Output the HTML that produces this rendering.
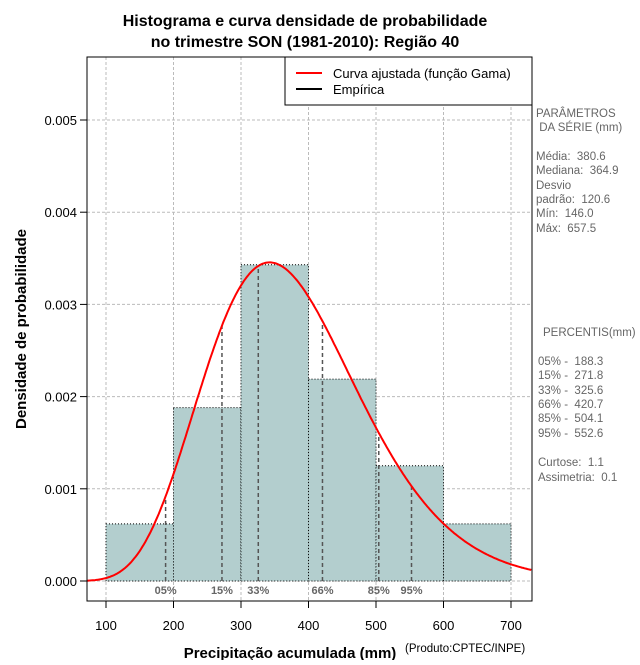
<!DOCTYPE html>
<html><head><meta charset="utf-8"><style>
body{margin:0;background:#fff;}
svg text{font-family:"Liberation Sans",sans-serif;}
.pre text{white-space:pre;}
</style></head><body>
<svg id="chart" width="640" height="660" xmlns="http://www.w3.org/2000/svg">
<rect width="640" height="660" fill="#fff"/>
<text x="305" y="26" text-anchor="middle" font-size="16" font-weight="bold">Histograma e curva densidade de probabilidade</text>
<text x="305" y="47" text-anchor="middle" font-size="16" font-weight="bold">no trimestre SON (1981-2010): Região 40</text>
<g id="grid"></g>
<g id="bars"></g>
<g id="pct"></g>
<path id="curve" fill="none" stroke="#ff0000" stroke-width="2"/>
<g id="axes"></g>
<rect x="87" y="57" width="445" height="544" fill="none" stroke="#000"/>
<g>
<rect x="285" y="57" width="247" height="48" fill="#fff" stroke="#000"/>
<line x1="296" y1="73" x2="322" y2="73" stroke="#ff0000" stroke-width="2"/>
<text x="333" y="78" font-size="13">Curva ajustada (função Gama)</text>
<line x1="296" y1="89" x2="322" y2="89" stroke="#000" stroke-width="2"/>
<text x="333" y="94" font-size="13">Empírica</text>
</g>
<g class="pre" font-size="11.5" fill="#666">
<text x="536" y="117">PARÂMETROS</text>
<text x="536" y="131"> DA SÉRIE (mm)</text>
<text x="536" y="160">Média:  380.6</text>
<text x="536" y="174">Mediana:  364.9</text>
<text x="536" y="189">Desvio</text>
<text x="536" y="203">padrão:  120.6</text>
<text x="536" y="217">Mín:  146.0</text>
<text x="536" y="232">Máx:  657.5</text>
<text x="543" y="336">PERCENTIS(mm)</text>
<text x="538" y="365">05% -  188.3</text>
<text x="538" y="379">15% -  271.8</text>
<text x="538" y="394">33% -  325.6</text>
<text x="538" y="408">66% -  420.7</text>
<text x="538" y="422">85% -  504.1</text>
<text x="538" y="437">95% -  552.6</text>
<text x="538" y="466">Curtose:  1.1</text>
<text x="538" y="481">Assimetria:  0.1</text>
</g>
<text x="290" y="658" text-anchor="middle" font-size="15" font-weight="bold">Precipitação acumulada (mm)</text>
<text x="405" y="652" font-size="11.5">(Produto:CPTEC/INPE)</text>
<text transform="translate(26,329) rotate(-90)" text-anchor="middle" font-size="15" font-weight="bold">Densidade de probabilidade</text>
</svg>
<script>
const binEdges=[100,200,300,400,500,600,700];
const binDensity=[0.00062,0.00188,0.00343,0.00219,0.00125,0.00062];
const xTicks=[100,200,300,400,500,600,700];
const yTicks=[0,0.001,0.002,0.003,0.004,0.005];
const yTickLabels=["0.000","0.001","0.002","0.003","0.004","0.005"];
const pctValues=[188.3,271.8,325.6,420.7,504.1,552.6];
const pctLabels=["05%","15%","33%","66%","85%","95%"];
const gammaMean=[380.6];
const gammaSd=[120.6];
const NS="http://www.w3.org/2000/svg";
const X=v=>106+(v-100)*0.675;
const Y=v=>581-v*92200;
const k=Math.pow(gammaMean[0]/gammaSd[0],2), th=gammaSd[0]*gammaSd[0]/gammaMean[0];
function lgamma(z){const c=[76.18009172947146,-86.50532032941677,24.01409824083091,-1.231739572450155,0.1208650973866179e-2,-0.5395239384953e-5];let x=z,y=z,t=x+5.5;t-=(x+0.5)*Math.log(t);let s=1.000000000190015;for(let j=0;j<6;j++)s+=c[j]/++y;return -t+Math.log(2.5066282746310005*s/x);}
const pdf=x=>x<=0?0:Math.exp((k-1)*Math.log(x)-x/th-lgamma(k)-k*Math.log(th));
function mk(tag,attrs,parent){const e=document.createElementNS(NS,tag);for(const a in attrs)e.setAttribute(a,attrs[a]);document.getElementById(parent).appendChild(e);return e;}
xTicks.forEach(t=>{const e=mk('line',{x1:X(t),x2:X(t),y1:57,y2:601,stroke:'#bbb','stroke-dasharray':'3,2'},'grid');

});
yTicks.forEach(t=>{const e=mk('line',{x1:87,x2:532,y1:Y(t),y2:Y(t),stroke:'#bbb','stroke-dasharray':'3,2'},'grid');

});
binDensity.forEach((d,i)=>{const e=mk('rect',{x:X(binEdges[i]),y:Y(d),width:X(binEdges[i+1])-X(binEdges[i]),height:Y(0)-Y(d),fill:'#b3cece',stroke:'#000','stroke-dasharray':'1,2'},'bars');

});
pctValues.forEach((p,i)=>{const e=mk('line',{x1:X(p),x2:X(p),y1:Y(0),y2:Y(pdf(p)),stroke:'#555','stroke-width':1.5,'stroke-dasharray':'4,3'},'pct');


const t=mk('text',{x:X(p),y:594,'text-anchor':'middle','font-size':11,'font-weight':'bold',fill:'#666'},'pct');t.textContent=pctLabels[i];

});
let d='';for(let v=72;v<=731;v+=2){const y=Math.max(Y(pdf(v)),57);d+=(d?'L':'M')+X(v).toFixed(1)+','+y.toFixed(1);}
document.getElementById('curve').setAttribute('d',d);
xTicks.forEach(t=>{mk('line',{x1:X(t),x2:X(t),y1:601,y2:608,stroke:'#000'},'axes');
const e=mk('text',{x:X(t),y:630,'text-anchor':'middle','font-size':13},'axes');e.textContent=t;

});
yTicks.forEach((t,i)=>{mk('line',{x1:80,x2:87,y1:Y(t),y2:Y(t),stroke:'#000'},'axes');
const e=mk('text',{x:77,y:Y(t)+5,'text-anchor':'end','font-size':13},'axes');e.textContent=yTickLabels[i];

});
</script>
</body></html>
